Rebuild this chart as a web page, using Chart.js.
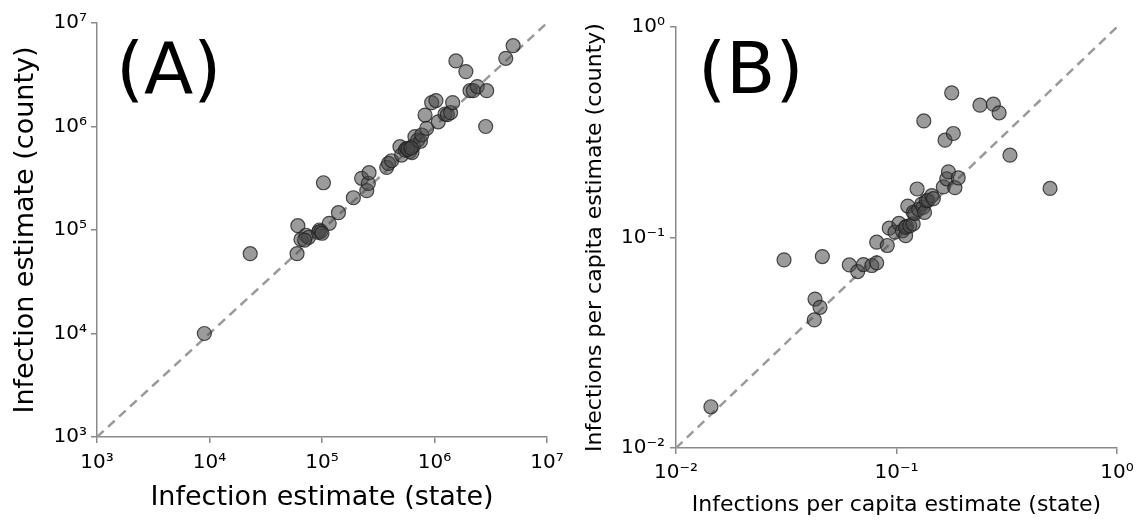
<!DOCTYPE html>
<html>
<head>
<meta charset="utf-8">
<script src="https://cdn.jsdelivr.net/npm/chart.js@4/dist/chart.umd.min.js"></script>
<style>
  html, body { margin: 0; padding: 0; background: #fff; }
  #wrap { position: relative; width: 1143px; height: 523px; overflow: hidden; }
  canvas { position: absolute; top: 0; }
  #cA { left: 0; }
  #cB { left: 572px; }
</style>
</head>
<body>
<div id="wrap">
  <canvas id="cA" width="572" height="523"></canvas>
  <canvas id="cB" width="571" height="523"></canvas>
</div>
<script>
// ---------- Panel A: infection estimates ----------
const stateA = [9.0e3, 2.3e4, 6.0e4, 6.1e4, 6.5e4, 7.2e4, 7.6e4, 9.3e4, 9.5e4, 9.8e4,
  1.03e5, 1.16e5, 1.40e5, 1.90e5, 2.25e5, 2.50e5, 2.58e5, 2.62e5, 3.76e5, 3.90e5,
  4.16e5, 4.93e5, 5.10e5, 5.50e5, 5.66e5, 6.05e5, 6.3e5, 6.49e5, 6.70e5, 7.1e5,
  7.5e5, 7.7e5, 8.24e5, 8.53e5, 9.44e5, 1.03e6, 1.08e6, 1.24e6, 1.30e6, 1.39e6,
  1.45e6, 1.55e6, 1.90e6, 2.07e6, 2.21e6, 2.40e6, 2.91e6, 2.85e6, 4.30e6, 5.0e6,
  5.8e5, 6.2e5, 1.0e5, 7.0e4];
const countyA = [1.0e4, 5.9e4, 5.9e4, 1.1e5, 8.1e4, 8.9e4, 8.5e4, 9.5e4, 1.0e5, 9.7e4,
  2.86e5, 1.16e5, 1.47e5, 2.05e5, 3.16e5, 2.40e5, 2.82e5, 3.58e5, 4.03e5, 4.4e5,
  4.67e5, 6.38e5, 5.3e5, 5.9e5, 6.15e5, 5.75e5, 5.6e5, 6.49e5, 7.98e5, 7.4e5,
  7.2e5, 8.28e5, 1.29e6, 9.6e5, 1.70e6, 1.78e6, 1.11e6, 1.32e6, 1.30e6, 1.36e6,
  1.70e6, 4.30e6, 3.39e6, 2.22e6, 2.22e6, 2.43e6, 2.22e6, 1.0e6, 4.56e6, 6.04e6,
  6.0e5, 6.2e5, 9.3e4, 8.0e4];
const rangeA = [1e3, 1e7];
const tickValsA = [1e3, 1e4, 1e5, 1e6, 1e7];
const tickLabelsA = ['10³', '10⁴', '10⁵', '10⁶', '10⁷'];

// ---------- Panel B: infections per capita ----------
const stateB = [0.0144, 0.0309, 0.0461, 0.0427, 0.045, 0.0424, 0.0611, 0.0667, 0.0708, 0.0773,
  0.0813, 0.0813, 0.0908, 0.0927, 0.0984, 0.1026, 0.1064, 0.110, 0.111, 0.1098,
  0.1148, 0.119, 0.1125, 0.119, 0.121, 0.124, 0.126, 0.130, 0.132, 0.134,
  0.1365, 0.139, 0.1445, 0.147, 0.133, 0.163, 0.166, 0.169, 0.172, 0.178,
  0.181, 0.184, 0.1905, 0.239, 0.275, 0.292, 0.327, 0.497];
const countyB = [0.0157, 0.0783, 0.0812, 0.051, 0.0466, 0.0406, 0.0741, 0.0689, 0.0744, 0.0736,
  0.0758, 0.095, 0.0916, 0.1107, 0.106, 0.1166, 0.1076, 0.102, 0.113, 0.1116,
  0.1137, 0.116, 0.141, 0.1315, 0.130, 0.170, 0.136, 0.144, 0.139, 0.1315,
  0.1495, 0.150, 0.158, 0.153, 0.358, 0.174, 0.290, 0.190, 0.205, 0.486,
  0.312, 0.1725, 0.192, 0.425, 0.430, 0.391, 0.246, 0.171];
const rangeB = [1e-2, 1e0];
const tickValsB = [1e-2, 1e-1, 1e0];
const tickLabelsB = ['10⁻²', '10⁻¹', '10⁰'];

Chart.defaults.font.family = "'DejaVu Sans', sans-serif";
Chart.defaults.color = '#000';

const panelLabel = {
  id: 'panelLabel',
  afterDraw(chart, args, o) {
    const { ctx, chartArea } = chart;
    ctx.save();
    ctx.font = o.size + "px 'DejaVu Sans'";
    ctx.fillStyle = '#000';
    ctx.textBaseline = 'alphabetic';
    ctx.textAlign = 'left';
    ctx.fillText(o.text, chartArea.left + o.dx, o.y);
    ctx.restore();
  }
};

function axis(cfg, which) {
  const isX = which === 'x';
  return {
    type: 'logarithmic',
    min: cfg.range[0],
    max: cfg.range[1],
    afterFit: s => { if (isX) s.height = cfg.xH; else s.width = cfg.yW; },
    afterBuildTicks: s => { s.ticks = cfg.tickVals.map(v => ({ value: v })); },
    ticks: {
      callback: (v, i) => cfg.tickLabels[i],
      font: { size: 20 },
      color: '#000',
      padding: isX ? cfg.xTickPad : cfg.yTickPad,
      maxRotation: 0,
      autoSkip: false
    },
    grid: { display: true, drawOnChartArea: false, drawTicks: true, tickLength: 6, color: '#8a8a8a', lineWidth: 1.5 },
    border: { display: true, color: '#8a8a8a', width: 1.5 },
    title: {
      display: true,
      text: isX ? cfg.xTitle : cfg.yTitle,
      font: { size: cfg.titleSize },
      color: '#000',
      padding: isX ? { top: 0, bottom: cfg.xTitlePad } : { top: cfg.yTitlePad, bottom: 0 }
    }
  };
}

function build(id, cfg) {
  const toPts = (xs, ys) => xs.map((x, i) => ({ x: x, y: ys[i] }));
  return new Chart(document.getElementById(id), {
    type: 'scatter',
    data: {
      datasets: [
        {
          data: toPts(cfg.range, cfg.range),
          showLine: true,
          borderColor: '#9a9a9a',
          borderWidth: 2.5,
          borderDash: [9, 6],
          pointRadius: 0,
          fill: false,
          order: 2
        },
        {
          data: toPts(cfg.xs, cfg.ys),
          backgroundColor: 'rgba(72,72,72,0.55)',
          borderColor: 'rgba(35,35,35,0.8)',
          borderWidth: 1.2,
          pointRadius: 7,
          pointHoverRadius: 7,
          order: 1
        }
      ]
    },
    options: {
      responsive: false,
      animation: false,
      events: [],
      layout: { padding: cfg.pad },
      plugins: {
        legend: { display: false },
        tooltip: { enabled: false },
        panelLabel: cfg.label
      },
      scales: { x: axis(cfg, 'x'), y: axis(cfg, 'y') }
    },
    plugins: [panelLabel]
  });
}

build('cA', {
  xs: stateA, ys: countyA, range: rangeA,
  tickVals: tickValsA, tickLabels: tickLabelsA,
  xTitle: 'Infection estimate (state)', yTitle: 'Infection estimate (county)',
  titleSize: 27, xTitlePad: 8.8, yTitlePad: 9.3,
  xTickPad: 8, yTickPad: 4,
  pad: { left: 0, right: 25, top: 23, bottom: 0 },
  yW: 97, xH: 86,
  label: { text: '(A)', size: 72, dx: 19, y: 93 }
});

build('cB', {
  xs: stateB, ys: countyB, range: rangeB,
  tickVals: tickValsB, tickLabels: tickLabelsB,
  xTitle: 'Infections per capita estimate (state)', yTitle: 'Infections per capita estimate (county)',
  titleSize: 22, xTitlePad: 4.3, yTitlePad: 9.8,
  xTickPad: 6.5, yTickPad: 5,
  pad: { left: 0, right: 26, top: 27, bottom: 0 },
  yW: 104, xH: 75,
  label: { text: '(B)', size: 72, dx: 22, y: 93 }
});
</script>
</body>
</html>
